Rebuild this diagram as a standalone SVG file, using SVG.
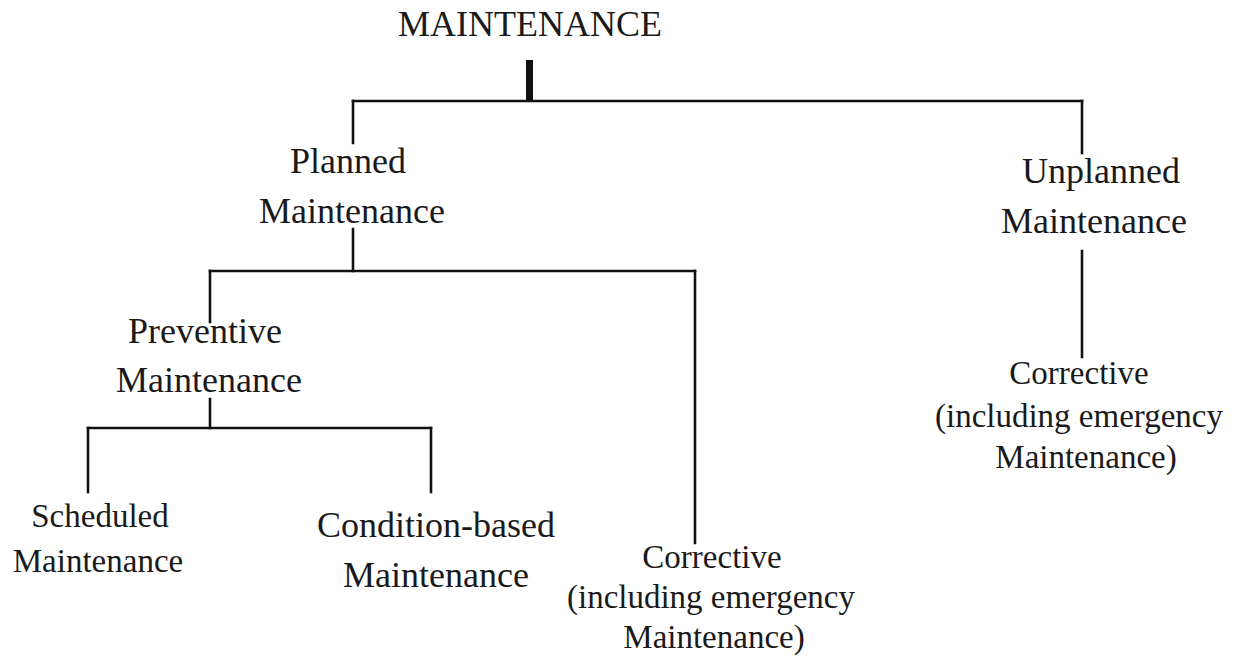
<svg xmlns="http://www.w3.org/2000/svg" width="1239" height="664" viewBox="0 0 1239 664">
<style>
text{font-family:"Liberation Serif","Times New Roman",serif;fill:#1a1a1a;text-anchor:middle}
.l{font-size:36px}
.s{font-size:33px}
.c line{stroke:#111;stroke-width:2.6;stroke-linecap:square}
</style>
<rect width="1239" height="664" fill="#fff"/>
<g class="c" id="connectors">
<line x1="529.5" y1="60" x2="529.5" y2="100" style="stroke-width:7;stroke-linecap:butt"/>
<line x1="353" y1="101" x2="1082" y2="101"/>
<line x1="353" y1="101" x2="353" y2="143"/>
<line x1="1082" y1="101" x2="1082" y2="153"/>
<line x1="353" y1="229" x2="353" y2="271"/>
<line x1="210" y1="271" x2="695" y2="271"/>
<line x1="210" y1="271" x2="210" y2="322"/>
<line x1="695" y1="271" x2="695" y2="543"/>
<line x1="210" y1="399" x2="210" y2="428"/>
<line x1="88" y1="428" x2="431" y2="428"/>
<line x1="88" y1="428" x2="88" y2="492"/>
<line x1="431" y1="428" x2="431" y2="492"/>
<line x1="1082" y1="251" x2="1082" y2="357"/>
</g>
<g id="root"><text class="l" x="530" y="36">MAINTENANCE</text></g>
<g id="planned"><text class="l" x="348" y="173">Planned</text><text class="l" x="352" y="223">Maintenance</text></g>
<g id="unplanned"><text class="l" x="1101" y="183">Unplanned</text><text class="l" x="1094" y="233">Maintenance</text></g>
<g id="preventive"><text class="l" x="205" y="343">Preventive</text><text class="l" x="209" y="392">Maintenance</text></g>
<g id="scheduled"><text class="s" x="100" y="527">Scheduled</text><text class="s" x="98" y="572">Maintenance</text></g>
<g id="condition"><text class="l" x="436" y="537">Condition-based</text><text class="l" x="436" y="587">Maintenance</text></g>
<g id="corrective-planned"><text class="s" x="712" y="568">Corrective</text><text class="s" x="711" y="608">(including emergency</text><text class="s" x="714" y="648">Maintenance)</text></g>
<g id="corrective-unplanned"><text class="s" x="1079" y="384">Corrective</text><text class="s" x="1079" y="427">(including emergency</text><text class="s" x="1086" y="468">Maintenance)</text></g>
</svg>
